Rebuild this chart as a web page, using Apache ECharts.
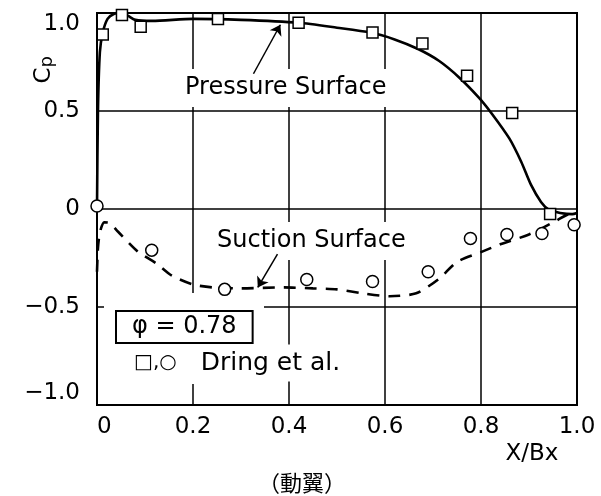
<!DOCTYPE html>
<html>
<head>
<meta charset="utf-8">
<script src="https://cdn.jsdelivr.net/npm/echarts@6/dist/echarts.min.js"></script>
<style>
  html, body { margin: 0; padding: 0; background: #fff; }
  #grafico { width: 601px; height: 496px; }
</style>
</head>
<body>
<div id="grafico"></div>
<script>
// Datos (X/Bx, Cp)
const xTicks = [0, 0.2, 0.4, 0.6, 0.8, 1.0];
const yTicks = [-1.0, -0.5, 0, 0.5, 1.0];

// curva del lado de presión (línea continua)
const curvaPresion = [
  [0.0, 0.0], [0.002, 0.5], [0.006, 0.8], [0.012, 0.9], [0.022, 0.97],
  [0.035, 0.995], [0.052, 1.0], [0.065, 0.985], [0.08, 0.965], [0.115, 0.96],
  [0.2, 0.97], [0.3, 0.965], [0.42, 0.95], [0.5, 0.925],
  [0.57, 0.9], [0.62, 0.865], [0.67, 0.815], [0.713, 0.755], [0.755, 0.67],
  [0.796, 0.567], [0.823, 0.485], [0.859, 0.36], [0.884, 0.24], [0.904, 0.124],
  [0.925, 0.036], [0.942, -0.005], [0.965, -0.02], [0.99, -0.026], [1.0, -0.02]
];

// curva del lado de succión (línea discontinua)
const curvaSuccion = [
  [0.0, -0.32], [0.002, -0.2], [0.006, -0.12], [0.015, -0.068], [0.025, -0.07],
  [0.044, -0.116], [0.085, -0.217], [0.125, -0.28], [0.156, -0.34], [0.2, -0.385],
  [0.24, -0.4], [0.3, -0.405], [0.39, -0.4], [0.45, -0.405],
  [0.5, -0.41], [0.553, -0.43], [0.61, -0.445], [0.665, -0.43], [0.713, -0.355],
  [0.75, -0.27], [0.8, -0.22], [0.84, -0.18], [0.9, -0.13], [0.952, -0.066],
  [0.983, -0.025], [1.0, -0.015]
];

// medidas de Dring et al.
const dringPresion = [
  [0.012, 0.89], [0.052, 0.99], [0.091, 0.93], [0.252, 0.97], [0.42, 0.95],
  [0.574, 0.9], [0.678, 0.845], [0.771, 0.68], [0.865, 0.49], [0.944, -0.025]
];
const dringSuccion = [
  [0.0, 0.015], [0.114, -0.21], [0.266, -0.41], [0.437, -0.36], [0.574, -0.37],
  [0.69, -0.32], [0.778, -0.15], [0.854, -0.13], [0.927, -0.125], [0.994, -0.08]
];

// flechas de las anotaciones [inicio, fin]
const flechaPresion = [[0.326, 0.69], [0.382, 0.94]];
const flechaSuccion = [[0.376, -0.23], [0.335, -0.4]];

const fuente = 'DejaVu Sans, sans-serif';

function etiquetaY(v) {
  if (v === 0) return '0';
  if (v < 0) return '\u2212' + Math.abs(v).toFixed(1);
  return v.toFixed(1);
}

const opciones = {
  animation: false,
  backgroundColor: '#fff',
  grid: {
    left: 97, right: 24, top: 13, bottom: 91,
    show: true, borderColor: '#000', borderWidth: 2,
    backgroundColor: 'transparent'
  },
  xAxis: {
    type: 'value', min: 0, max: 1, interval: 0.2,
    axisLine: { show: false },
    axisTick: { show: false },
    splitLine: { lineStyle: { color: '#000', width: 1.5 } },
    axisLabel: {
      color: '#000', fontSize: 23, fontFamily: fuente, margin: 11,
      alignMinLabel: 'left',
      formatter: v => (v === 0 ? '0' : v.toFixed(1))
    }
  },
  yAxis: {
    type: 'value', min: -1, max: 1, interval: 0.5,
    axisLine: { show: false },
    axisTick: { show: false },
    splitLine: { lineStyle: { color: '#000', width: 1.5 } },
    axisLabel: {
      color: '#000', fontSize: 23, fontFamily: fuente, margin: 17,
      verticalAlignMaxLabel: 'top',
      verticalAlignMinLabel: 'bottom',
      formatter: etiquetaY
    }
  },
  graphic: [
    {
      type: 'text', left: 33, top: 56, rotation: Math.PI / 2, z: 1,
      style: {
        text: '{c|C}{p|p}',
        rich: {
          c: { fontSize: 23, fontFamily: fuente, fill: '#000' },
          p: { fontSize: 18, fontFamily: fuente, fill: '#000', padding: [6, 0, 0, 0] }
        }
      }
    },
    {
      type: 'text', z: 1,
      style: {
        x: 180, y: 88, text: 'Pressure Surface', font: '24px ' + fuente,
        fill: '#000', verticalAlign: 'middle', align: 'left',
        backgroundColor: '#fff', padding: [7, 5]
      }
    },
    {
      type: 'text', z: 1,
      style: {
        x: 212, y: 241, text: 'Suction Surface', font: '24px ' + fuente,
        fill: '#000', verticalAlign: 'middle', align: 'left',
        backgroundColor: '#fff', padding: [7, 5]
      }
    },
    {
      type: 'rect', z: 1,
      shape: { x: 104, y: 293, width: 160, height: 91 },
      style: { fill: '#fff' }
    },
    {
      type: 'text', z: 1,
      style: {
        x: 117, y: 327, text: '\u03c6 = 0.78', font: '24px ' + fuente,
        fill: '#000', verticalAlign: 'middle', align: 'left',
        backgroundColor: '#fff', borderColor: '#000', borderWidth: 2,
        padding: [3, 15]
      }
    },
    {
      type: 'text', z: 1,
      style: {
        x: 130, y: 363, verticalAlign: 'middle', align: 'left',
        backgroundColor: '#fff', padding: [6, 4],
        text: '{s|\u25a1,\u25cb}{t|Dring et al.}',
        rich: {
          s: { fontSize: 20, fontFamily: fuente, fill: '#000' },
          t: { fontSize: 25, fontFamily: fuente, fill: '#000', padding: [0, 0, 0, 24] }
        }
      }
    },
    {
      type: 'text', z: 1,
      style: {
        x: 532, y: 454, text: 'X/Bx', font: '23px ' + fuente,
        fill: '#000', verticalAlign: 'middle', align: 'center'
      }
    },
    {
      type: 'text', z: 1,
      style: {
        x: 302, y: 483, text: '\uff08\u52d5\u7ffc\uff09', font: '22px "Noto Sans CJK JP"',
        fill: '#000', verticalAlign: 'middle', align: 'center'
      }
    }
  ],
  series: [
    {
      name: 'Pressure Surface', type: 'line', data: curvaPresion,
      smooth: 0.25, showSymbol: false,
      lineStyle: { color: '#000', width: 2.6 },
      markLine: {
        silent: true, symbol: ['none', 'arrow'], symbolSize: 10,
        label: { show: false },
        lineStyle: { color: '#000', width: 1.5, type: 'solid' },
        data: [
          [{ coord: flechaPresion[0] }, { coord: flechaPresion[1] }],
          [{ coord: flechaSuccion[0] }, { coord: flechaSuccion[1] }]
        ]
      }
    },
    {
      name: 'Suction Surface', type: 'line', data: curvaSuccion,
      smooth: 0.25, showSymbol: false,
      lineStyle: { color: '#000', width: 2.6, type: [12, 9] }
    },
    {
      name: 'Dring presión', type: 'scatter', data: dringPresion,
      symbol: 'rect', symbolSize: 11, z: 4,
      itemStyle: { color: '#fff', borderColor: '#000', borderWidth: 1.5, opacity: 1 }
    },
    {
      name: 'Dring succión', type: 'scatter', data: dringSuccion,
      symbol: 'circle', symbolSize: 12, z: 4,
      itemStyle: { color: '#fff', borderColor: '#000', borderWidth: 1.5, opacity: 1 }
    }
  ]
};

const miGrafico = echarts.init(document.getElementById('grafico'));
miGrafico.setOption(opciones);
</script>
</body>
</html>
